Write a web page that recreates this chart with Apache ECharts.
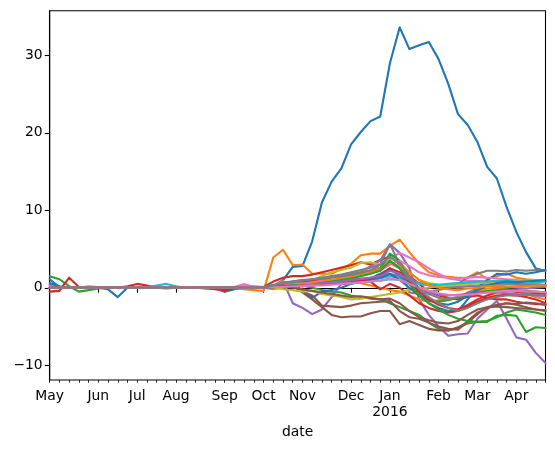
<!DOCTYPE html>
<html>
<head>
<meta charset="utf-8">
<script src="https://cdn.jsdelivr.net/npm/echarts@6/dist/echarts.min.js"></script>
<style>
  html, body { margin: 0; padding: 0; background: #fff; }
  #chart { width: 555px; height: 449px; }
</style>
</head>
<body>
<div id="chart"></div>
<script>
  // weekly data, May 2015 - Apr 2016 (52 weeks)
  const firstWeek = '2015-04-27';
  const monthTickIdx = [0, 5, 9, 13, 18, 22, 26, 31, 35, 40, 44, 48];
  const monthTickLabels = ['May', 'Jun', 'Jul', 'Aug', 'Sep', 'Oct', 'Nov', 'Dec', 'Jan\n2016', 'Feb', 'Mar', 'Apr'];
  const yTicks = [-10, 0, 10, 20, 30];

  const blue1 = [1.1, 0.1, 0.0, 0.0, 0.0, 0.0, -0.2, -1.2, 0.0, 0.1, 0.0, 0.0, 0.0, 0.0, 0.0, 0.0, 0.0, -0.1, -0.5, -0.2, 0.0, 0.0,
    0.0, 0.2, 1.0, 2.7, 2.8, 6.0, 11.0, 13.7, 15.4, 18.5, 20.1, 21.5, 22.1, 29.0, 33.6, 30.8, 31.3, 31.7, 29.5, 26.3, 22.4, 21.0, 18.8, 15.6, 14.1, 10.4, 7.2, 4.6, 2.5, 2.2];
  const orange1 = [0.0, -0.1, 0.0, 0.0, 0.0, 0.0, 0.0, 0.0, 0.0, 0.0, 0.0, 0.0, 0.0, 0.0, 0.0, 0.0, 0.0, 0.0, 0.0, -0.1, -0.2, -0.3,
    -0.4, 3.9, 4.9, 2.9, 3.0, 1.8, 1.8, 1.8, 2.4, 3.1, 4.2, 4.4, 4.4, 5.4, 6.2, 4.6, 3.1, 2.0, 1.6, 1.4, 1.3, 1.3, 2.0, 1.1, 1.5, 1.85, 1.3, 1.1, 1.0, 0.9];
  const green1 = [1.5, 1.1, 0.2, -0.5, -0.3, -0.1, 0.0, 0.0, 0.0, 0.0, 0.0, 0.0, -0.1, 0.0, 0.0, 0.0, 0.0, 0.0, 0.0, 0.0, 0.0, 0.0,
    0.0, 0.1, 0.3, 0.5, 0.3, 0.0, -0.3, -0.5, -0.6, -1.0, -1.2, -1.4, -1.5, -2.0, -2.5, -3.0, -3.5, -4.5, -5.3, -5.5, -5.2, -4.6, -4.4, -4.4, -3.6, -3.5, -3.6, -5.7, -5.1, -5.2];
  const red1 = [-0.5, -0.4, 1.3, 0.1, 0.0, 0.0, 0.0, 0.0, 0.2, 0.5, 0.3, 0.0, 0.0, 0.0, 0.0, 0.0, -0.1, -0.2, -0.3, -0.1, 0.0, 0.0,
    0.1, 0.8, 1.3, 1.5, 1.5, 1.7, 2.0, 2.3, 2.6, 2.9, 3.3, 3.0, 3.6, 4.0, 3.0, 1.5, 0.5, -0.5, -1.0, -1.3, -1.5, -1.2, -1.0, -1.3, -1.5, -1.5, -1.8, -2.0, -2.1, -2.2];
  const purple1 = [0.4, 0.1, 0.0, 0.0, 0.1, 0.0, 0.0, 0.0, 0.0, 0.0, 0.0, 0.0, 0.0, 0.0, 0.0, 0.0, 0.0, 0.0, 0.0, 0.0, 0.2, 0.0,
    0.0, 0.3, 0.9, -2.0, -2.6, -3.4, -2.8, -1.2, 0.5, 1.0, 2.0, 2.8, 3.5, 5.6, 4.5, 2.5, -1.5, -3.5, -5.0, -6.2, -6.0, -5.9, -4.0, -2.8, -1.7, -4.0, -6.4, -6.7, -8.4, -9.7];
  const brown1 = [0.0, 0.0, 0.0, 0.1, 0.0, 0.0, 0.0, 0.0, 0.0, 0.0, 0.0, 0.0, 0.0, 0.0, 0.0, 0.0, 0.0, 0.0, 0.0, 0.0, 0.0, 0.0,
    0.0, 0.3, 0.5, 0.3, -0.6, -1.5, -2.5, -3.5, -3.8, -3.7, -3.7, -3.3, -3.0, -3.0, -4.7, -4.3, -4.8, -5.3, -5.5, -5.5, -5.1, -4.5, -3.4, -2.5, -2.3, -2.0, -2.2, -2.5, -2.8, -3.0];
  const pink1 = [0.2, 0.1, 0.0, 0.0, 0.2, 0.1, 0.0, 0.0, 0.0, 0.0, 0.0, 0.0, 0.0, 0.0, 0.0, 0.0, 0.0, 0.0, 0.0, 0.1, 0.5, 0.1,
    0.0, 0.2, 0.6, 0.8, 0.7, 0.9, 1.2, 1.4, 1.6, 1.8, 2.0, 2.3, 2.6, 3.8, 4.5, 3.9, 3.3, 2.5, 1.8, 1.2, 1.0, 0.9, 0.9, 0.8, 0.8, 0.7, 0.6, 0.5, 0.5, 0.4];
  const gray1 = [0.0, 0.0, 0.0, 0.0, 0.0, 0.0, 0.0, 0.0, 0.0, 0.0, 0.0, 0.0, 0.0, 0.0, 0.0, 0.0, 0.0, 0.0, 0.0, 0.0, 0.0, 0.0,
    0.0, 0.2, 0.6, 0.8, 1.0, 1.0, 1.1, 1.3, 1.5, 1.8, 2.0, 2.2, 3.0, 5.6, 3.0, -0.6, -0.8, -0.5, -0.3, 0.0, 0.5, 1.3, 1.8, 2.2, 2.2, 2.1, 2.3, 2.2, 2.3, 2.2];
  const olive1 = [0.0, 0.0, 0.0, 0.0, 0.0, 0.0, 0.0, 0.0, 0.0, 0.0, 0.0, 0.0, 0.0, 0.0, 0.0, 0.0, 0.0, 0.0, 0.0, 0.0, 0.0, 0.0,
    0.0, 0.3, 0.8, 0.5, 0.6, 1.0, 1.5, 2.0, 2.3, 2.6, 3.2, 3.3, 3.0, 3.8, 3.3, 2.0, 1.0, 0.6, 0.4, 0.2, 0.0, 0.2, 0.3, 0.4, 0.5, 0.5, 0.4, 0.3, 0.2, 0.1];
  const cyan1 = [0.0, 0.0, 0.0, 0.0, 0.0, 0.0, 0.0, 0.0, 0.0, 0.0, 0.1, 0.3, 0.5, 0.2, 0.0, 0.0, 0.0, 0.0, 0.0, 0.0, 0.0, 0.2,
    0.1, 0.4, 0.2, 0.1, 0.3, 0.5, 0.6, 0.6, 0.7, 0.8, 0.9, 1.0, 1.2, 1.5, 1.3, 1.0, 0.6, 0.4, 0.3, 0.3, 0.4, 0.5, 0.6, 0.5, 0.6, 0.5, 0.4, 0.4, 0.3, 0.3];
  const blue2 = [0.6, 0.2, 0.0, 0.0, 0.0, 0.0, 0.0, 0.1, 0.0, 0.0, 0.0, 0.0, 0.0, 0.0, 0.0, 0.0, 0.0, 0.0, 0.0, 0.0, 0.0, 0.0,
    0.0, 0.2, 0.3, 0.5, -0.3, -1.3, -0.5, -0.3, 0.0, 0.5, 0.8, 1.2, 1.8, 2.5, 1.5, 0.5, -1.0, -2.0, -2.6, -3.0, -3.0, -1.5, 0.0, 1.0, 1.8, 1.7, 2.0, 1.8, 2.0, 2.3];
  const orange2 = [0.0, 0.0, 0.0, 0.0, 0.0, 0.0, 0.0, 0.0, 0.0, 0.0, 0.0, 0.0, 0.0, 0.0, 0.0, 0.0, 0.0, 0.0, 0.0, 0.0, 0.0, 0.0,
    0.0, -0.2, 0.0, 0.3, 0.2, 0.3, 0.5, 0.7, 0.8, 1.0, 0.6, 0.3, 0.0, -0.3, -0.5, -1.0, -1.5, -1.8, -1.6, -1.4, -1.2, -0.8, -0.4, -0.1, 0.0, -0.2, -0.5, -0.8, -1.2, -1.5];
  const green2 = [0.0, 0.0, 0.0, 0.0, 0.0, 0.0, 0.0, 0.0, 0.0, 0.0, 0.0, 0.0, 0.0, 0.0, 0.0, 0.0, 0.0, 0.0, 0.0, 0.0, 0.0, 0.0,
    0.0, 0.1, 0.2, 0.4, 0.5, 0.8, 1.0, 1.0, 1.3, 1.5, 1.8, 2.0, 2.5, 4.4, 3.5, 1.0, -1.0, -1.5, -1.8, -1.6, -1.3, -1.0, -0.6, -0.4, -0.3, -0.2, -0.3, -0.4, -0.5, -0.6];
  const red2 = [0.0, 0.0, 0.0, 0.0, 0.0, 0.0, 0.0, 0.0, 0.0, 0.0, 0.0, 0.0, 0.0, 0.0, 0.0, 0.0, 0.0, 0.0, 0.0, 0.0, 0.0, 0.0,
    0.0, 0.3, 0.6, 0.7, 0.8, 0.9, 0.8, 0.9, 1.0, 1.1, 1.0, 0.8, -0.2, 0.5, 0.0, -1.0, -2.0, -2.6, -3.0, -3.2, -3.0, -2.4, -1.8, -1.3, -1.0, -0.9, -1.0, -1.2, -1.5, -2.0];
  const purple2 = [0.0, 0.0, 0.0, 0.0, 0.0, 0.0, 0.0, 0.0, 0.0, 0.0, 0.0, 0.0, 0.0, 0.0, 0.0, 0.0, 0.0, 0.0, 0.0, 0.0, 0.0, 0.0,
    0.0, 0.2, 0.3, 0.4, 0.3, 0.5, 0.6, 0.8, 0.9, 1.0, 1.2, 1.3, 1.4, 1.8, 1.5, 1.0, 0.6, 0.3, 0.1, 0.0, 0.1, 0.2, 0.2, 0.3, 0.2, 0.1, 0.0, -0.1, 0.0, 0.1];
  const brown2 = [0.0, 0.0, 0.0, 0.0, 0.0, 0.0, 0.0, 0.0, 0.0, 0.0, 0.0, 0.0, 0.0, 0.0, 0.0, 0.0, 0.0, 0.0, 0.0, 0.0, 0.0, 0.0,
    0.0, 0.3, 0.5, 0.2, -0.5, -1.0, -2.3, -2.4, -2.5, -2.3, -2.0, -1.9, -1.8, -1.7, -3.0, -3.8, -4.0, -4.5, -5.0, -5.3, -5.4, -4.3, -3.2, -2.6, -2.2, -2.0, -2.1, -1.9, -2.0, -2.2];
  const pink2 = [0.0, 0.0, 0.0, 0.0, 0.0, 0.0, 0.0, 0.0, 0.0, 0.0, 0.0, 0.0, 0.0, 0.0, 0.0, 0.0, 0.0, 0.0, 0.0, 0.0, 0.0, 0.0,
    0.0, 0.1, 0.4, 0.6, 0.5, 0.7, 0.9, 1.0, 1.2, 1.4, 1.6, 1.9, 2.2, 3.0, 3.5, 2.8, 2.0, 1.6, 1.4, 1.3, 1.2, 1.3, 1.4, 1.3, 1.2, 1.1, 1.0, 0.9, 0.8, 0.8];
  const gray2 = [0.0, 0.0, 0.0, 0.0, 0.0, 0.0, 0.0, 0.0, 0.0, 0.0, 0.0, 0.0, 0.0, 0.0, 0.0, 0.0, 0.0, 0.0, 0.0, 0.0, 0.0, 0.0,
    0.0, 0.3, 0.7, 0.8, 1.0, 1.1, 1.2, 1.4, 1.5, 1.6, 1.8, 2.0, 2.4, 3.2, 2.5, 1.2, 0.0, -0.8, -1.3, -1.5, -1.2, -0.6, -0.1, 0.3, 0.5, 0.6, 0.5, 0.4, 0.4, 0.3];
  const olive2 = [0.0, 0.0, 0.0, 0.0, 0.0, 0.0, 0.0, 0.0, 0.0, 0.0, 0.0, 0.0, 0.0, 0.0, 0.0, 0.0, 0.0, 0.0, 0.0, 0.0, 0.0, 0.0,
    0.0, 0.1, -0.2, -0.3, -0.5, -0.4, -0.8, -1.0, -1.2, -1.5, -1.4, -1.2, -1.0, -0.8, -0.6, -0.3, -0.1, 0.0, 0.2, 0.3, 0.4, 0.5, 0.6, 0.7, 0.7, 0.8, 0.8, 0.9, 1.0, 1.0];
  const cyan2 = [0.0, 0.0, 0.0, 0.0, 0.0, 0.0, 0.0, 0.0, 0.0, 0.0, 0.0, 0.0, 0.0, 0.0, 0.0, 0.0, 0.0, 0.0, 0.0, 0.0, 0.0, 0.0,
    0.0, 0.1, 0.2, 0.2, 0.3, 0.4, 0.4, 0.5, 0.5, 0.6, 0.7, 0.8, 0.9, 1.1, 1.0, 0.7, 0.5, 0.4, 0.4, 0.5, 0.6, 0.7, 0.8, 0.8, 0.9, 0.9, 0.8, 0.8, 0.7, 0.8];
  const blue3 = [0.0, 0.0, 0.0, 0.0, 0.0, 0.0, 0.0, 0.0, 0.0, 0.0, 0.0, 0.0, 0.0, 0.0, 0.0, 0.0, 0.0, 0.0, 0.0, 0.0, 0.0, 0.0,
    0.0, 0.1, 0.2, 0.3, 0.4, 0.3, 0.5, 0.6, 0.5, 0.7, 0.9, 1.1, 1.3, 1.8, 1.0, 0.0, -1.0, -1.6, -2.0, -2.2, -1.8, -1.0, -0.3, 0.3, 0.6, 0.8, 0.7, 0.8, 0.9, 1.0];
  const orange3 = [0.0, 0.0, 0.0, 0.0, 0.0, 0.0, 0.0, 0.0, 0.0, 0.0, 0.0, 0.0, 0.0, 0.0, 0.0, 0.0, 0.0, 0.0, 0.0, 0.0, 0.0, 0.0,
    0.0, 0.1, 0.3, 0.2, 0.4, 0.6, 0.8, 1.0, 1.2, 1.4, 1.6, 2.0, 2.4, 3.2, 2.8, 2.0, 1.0, 0.3, 0.0, -0.2, -0.3, -0.1, 0.0, 0.2, 0.3, 0.2, 0.1, 0.2, 0.3, 0.3];
  const green3 = [0.0, 0.0, 0.0, 0.0, 0.0, 0.0, 0.0, 0.0, 0.0, 0.0, 0.0, 0.0, 0.0, 0.0, 0.0, 0.0, 0.0, 0.0, 0.0, 0.0, 0.0, 0.0,
    0.0, 0.1, 0.2, 0.3, 0.2, 0.4, 0.6, 0.8, 1.0, 1.2, 1.5, 1.8, 2.2, 3.5, 2.5, 0.5, -1.0, -2.0, -2.8, -3.5, -4.0, -4.3, -4.4, -4.3, -3.8, -3.2, -2.8, -3.0, -3.2, -3.5];
  const red3 = [0.0, 0.0, 0.0, 0.0, 0.0, 0.0, 0.0, 0.0, 0.0, 0.0, 0.0, 0.0, 0.0, 0.0, 0.0, 0.0, 0.0, 0.0, 0.0, 0.0, 0.0, 0.0,
    0.0, 0.2, 0.3, 0.2, 0.3, 0.3, 0.4, 0.5, 0.5, 0.7, 0.9, 1.2, 1.6, 2.5, 2.0, 0.8, -0.5, -1.5, -2.2, -2.6, -2.8, -2.2, -1.5, -1.0, -0.6, -0.4, -0.5, -0.6, -0.7, -0.8];
  const purple3 = [0.0, 0.0, 0.0, 0.0, 0.0, 0.0, 0.0, 0.0, 0.0, 0.0, 0.0, 0.0, 0.0, 0.0, 0.0, 0.0, 0.0, 0.0, 0.0, 0.0, 0.0, 0.0,
    0.0, 0.1, 0.2, 0.1, 0.3, 0.4, 0.6, 0.7, 0.8, 1.0, 1.1, 1.3, 1.5, 2.2, 1.8, 1.0, 0.0, -0.6, -0.9, -1.0, -0.9, -0.8, -0.7, -0.6, -0.6, -0.7, -0.8, -0.9, -1.0, -1.1];
  const brown3 = [0.0, 0.0, 0.0, 0.0, 0.0, 0.0, 0.0, 0.0, 0.0, 0.0, 0.0, 0.0, 0.0, 0.0, 0.0, 0.0, 0.0, 0.0, 0.0, 0.0, 0.0, 0.0,
    0.0, 0.1, 0.2, 0.0, -0.2, -0.4, -0.6, -0.8, -1.0, -1.2, -1.1, -1.3, -1.5, -1.4, -2.0, -3.0, -3.8, -4.2, -4.5, -4.6, -4.3, -3.5, -2.8, -2.5, -2.4, -2.5, -2.6, -2.7, -2.8, -2.9];
  const pink3 = [0.0, 0.0, 0.0, 0.0, 0.0, 0.0, 0.0, 0.0, 0.0, 0.0, 0.0, 0.0, 0.0, 0.0, 0.0, 0.0, 0.0, 0.0, 0.0, 0.0, 0.0, 0.0,
    0.0, 0.1, 0.1, 0.2, 0.2, 0.3, 0.3, 0.4, 0.5, 0.6, 0.7, 0.8, 0.9, 1.2, 1.0, 0.5, 0.0, -0.4, -0.7, -0.9, -1.0, -0.9, -0.8, -0.6, -0.5, -0.4, -0.4, -0.5, -0.5, -0.6];
  const gray3 = [0.0, 0.0, 0.0, 0.0, 0.0, 0.0, 0.0, 0.0, 0.0, 0.0, 0.0, 0.0, 0.0, 0.0, 0.0, 0.0, 0.0, 0.0, 0.0, 0.0, 0.0, 0.0,
    0.0, 0.3, 0.6, 0.7, 0.9, 1.1, 1.3, 1.5, 1.7, 2.0, 2.3, 2.6, 3.0, 4.0, 3.2, 1.5, -0.2, -1.2, -2.0, -2.6, -3.0, -2.6, -2.0, -1.5, -1.2, -1.0, -1.0, -0.9, -0.9, -1.0];

  const allSeries = [blue1, orange1, green1, red1, purple1, brown1, pink1, gray1, olive1, cyan1,
    blue2, orange2, green2, red2, purple2, brown2, pink2, gray2, olive2, cyan2,
    blue3, orange3, green3, red3, purple3, brown3, pink3, gray3];
  const palette = ['#1f77b4', '#ff7f0e', '#2ca02c', '#d62728', '#9467bd', '#8c564b', '#e377c2', '#7f7f7f', '#bcbd22', '#17becf'];

  // week start dates as categories
  const weeks = [];
  const d0 = new Date(firstWeek + 'T00:00:00Z');
  for (let i = 0; i < blue1.length; i++) {
    const d = new Date(d0.getTime() + i * 7 * 86400000);
    weeks.push(d.toISOString().slice(0, 10));
  }
  const isMonthTick = (idx) => monthTickIdx.indexOf(idx) >= 0;

  const chart = echarts.init(document.getElementById('chart'), null, { renderer: 'canvas' });
  const font = 'DejaVu Sans';
  chart.setOption({
    animation: false,
    color: palette,
    grid: {
      left: 49.7, right: 9.5, top: 10.7, bottom: 69,
      show: true, borderColor: '#000', borderWidth: 1.1, backgroundColor: 'transparent'
    },
    xAxis: [
      {
        type: 'category',
        data: weeks,
        boundaryGap: false,
        name: 'date',
        nameLocation: 'middle',
        nameGap: 42,
        nameTextStyle: { color: '#000', fontFamily: font, fontSize: 13.9 },
        axisLine: { show: true, lineStyle: { color: '#000', width: 1.1 } },
        axisTick: { show: true, interval: isMonthTick, length: 4.9, lineStyle: { color: '#000', width: 1.1 } },
        axisLabel: {
          interval: isMonthTick,
          margin: 8,
          color: '#000',
          fontFamily: font,
          fontSize: 13.9,
          lineHeight: 16,
          formatter: (v, idx) => monthTickLabels[monthTickIdx.indexOf(idx)]
        },
        splitLine: { show: false }
      },
      {
        type: 'category',
        data: weeks,
        boundaryGap: false,
        position: 'bottom',
        axisLine: { show: false },
        axisTick: { show: true, interval: 0, length: 2.8, lineStyle: { color: '#000', width: 0.8 } },
        axisLabel: { show: false },
        splitLine: { show: false }
      }
    ],
    yAxis: {
      type: 'value',
      min: -11.9,
      max: 35.75,
      axisLine: { show: true, lineStyle: { color: '#000', width: 1.1 } },
      axisTick: { show: true, length: 4.9, customValues: yTicks, lineStyle: { color: '#000', width: 1.1 } },
      axisLabel: {
        customValues: yTicks,
        margin: 7,
        color: '#000',
        fontFamily: font,
        fontSize: 13.9,
        formatter: (v) => (v < 0 ? '\u2212' + Math.abs(v) : String(v))
      },
      splitLine: { show: false }
    },
    series: allSeries.map((vals, i) => ({
      type: 'line',
      data: vals,
      xAxisIndex: 0,
      showSymbol: false,
      symbol: 'none',
      lineStyle: { width: 2.1, color: palette[i % 10], join: 'round', cap: 'round' },
      z: 2,
      zlevel: 0,
      silent: true
    }))
  });
</script>
</body>
</html>
